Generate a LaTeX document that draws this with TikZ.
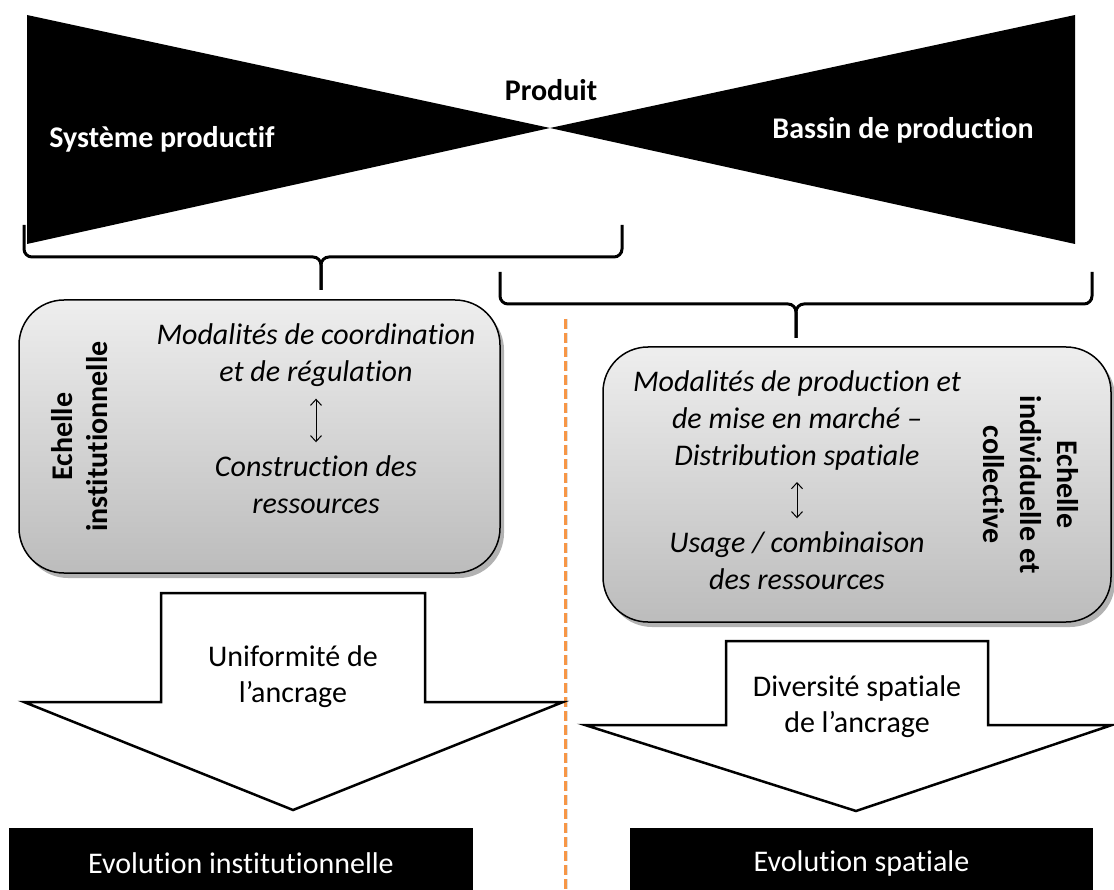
\documentclass[tikz,border=0pt]{standalone}
\usepackage{fontspec}
\setmainfont{Carlito}[Ligatures={NoCommon}]
\usetikzlibrary{shadows,arrows.meta}
\definecolor{orangeline}{RGB}{247,150,70}
\definecolor{boxtop}{RGB}{238,238,238}
\definecolor{boxbot}{RGB}{188,188,188}
\begin{document}
\begin{tikzpicture}[x=1pt,y=-1pt,
  boldtxt/.style={font=\fontsize{30}{36}\selectfont\bfseries, inner sep=0pt},
  ittxt/.style={font=\fontsize{30}{37}\selectfont\itshape, align=center, inner sep=0pt},
  vtxt/.style={font=\fontsize{30}{35}\selectfont\bfseries, align=center, inner sep=0pt},
  vtxtr/.style={font=\fontsize{30}{37}\selectfont\bfseries, align=center, inner sep=0pt},
  arrtxt/.style={font=\fontsize{30}{36}\selectfont, align=center, inner sep=0pt},
  evobox/.style={fill=black, text=white, font=\fontsize{30}{36}\selectfont, minimum height=70pt, inner sep=0pt},
  scalebox/.style={draw=black, line width=1.5pt, rounded corners=45pt, top color=boxtop, bottom color=boxbot,
    drop shadow={shadow xshift=4pt, shadow yshift=-5pt, opacity=0.3, fill=black}},
  bracepath/.style={line width=3pt, rounded corners=8pt},
  blockarrow/.style={draw=black, fill=white, line width=2.5pt, line join=miter},
  dblarrow/.style={{Straight Barb[length=6pt,width=11pt]}-{Straight Barb[length=6pt,width=11pt]}, line width=1pt},
  divider/.style={orangeline, line width=3pt, dash pattern=on 10pt off 4pt}
]
\useasboundingbox (0,0) rectangle (1114,890);

% bow tie
\fill (27,15) -- (27,244) -- (550,128) -- cycle;
\fill (1075,15) -- (1075,244) -- (550,128) -- cycle;
\node[boldtxt] (prod) at (551,90) {Produit};
\node[boldtxt, text=white] (sys) at (162,139) {Système productif};
\node[boldtxt, text=white] (bas) at (903,130) {Bassin de production};

% braces
\draw[bracepath] (24,225) -- (24,257) -- (321,257) -- (321,290);
\draw[bracepath] (321,290) -- (321,257) -- (622,257) -- (622,225);
\draw[bracepath] (500,272) -- (500,304) -- (796,304) -- (796,338);
\draw[bracepath] (796,338) -- (796,304) -- (1092,304) -- (1092,272);

% divider
\coordinate (dtop) at (565,319);
\coordinate (dbot) at (565,890);
\draw[gray, opacity=0.25, line width=3pt, dash pattern=on 10pt off 4pt] ([xshift=1.5pt]dtop) -- ([xshift=1.5pt]dbot);
\draw[divider] (dtop) -- (dbot);

% left box
\node[scalebox, minimum width=481pt, minimum height=273pt] (lbox) at (259.5,436.5) {};
\node[ittxt] (lt1) at (316,355) {Modalités de coordination\\et de régulation};
\node[ittxt] (lt2) at (316,484.5) {Construction des\\ressources};
\draw[dblarrow, shorten <=12pt, shorten >=13pt] (lt1) -- (lt2);
\node[vtxt, rotate=90] (lv) at (80,436.5) {Echelle\\institutionnelle};

% right box
\node[scalebox, minimum width=508pt, minimum height=275pt] (rbox) at (857,484.5) {};
\node[ittxt] (rt1) at (797,421) {Modalités de production et\\de mise en marché –\\Distribution spatiale};
\node[ittxt] (rt2) at (797,560.5) {Usage / combinaison\\des ressources};
\draw[dblarrow, shorten <=11pt, shorten >=13pt] (rt1) -- (rt2);
\node[vtxtr, rotate=-90] (rv) at (1031,484.5) {Echelle\\individuelle et\\collective};

% block arrows
\draw[blockarrow] (161,593) -- (425,593) -- (425,702) -- (563,702) -- (293,810) -- (24,702) -- (161,702) -- cycle;
\node[arrtxt] (la) at (293,676.5) {Uniformité de\\l’ancrage};
\draw[blockarrow] (726,641) -- (988,641) -- (988,725) -- (1112,725) -- (856,811) -- (585,725) -- (726,725) -- cycle;
\node[arrtxt] (ra) at (857,706.5) {Diversité spatiale\\de l’ancrage};

% bottom boxes
\node[evobox, minimum width=464pt] (le) at (241,863) {Evolution institutionnelle};
\node[evobox, minimum width=463pt] (re) at (861.5,863) {Evolution spatiale};
\end{tikzpicture}
\end{document}
